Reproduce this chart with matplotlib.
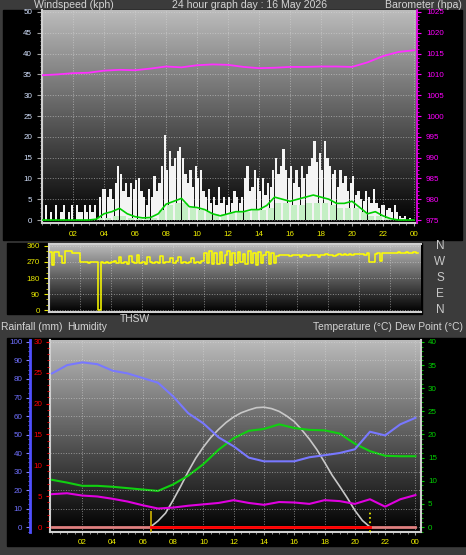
import numpy as np
import matplotlib
matplotlib.use("Agg")
import matplotlib.pyplot as plt
from matplotlib.patches import Rectangle
from matplotlib.colors import LinearSegmentedColormap
from matplotlib.ticker import MultipleLocator
from matplotlib.transforms import blended_transform_factory

# ---- data ----
hour_labels = ["02", "04", "06", "08", "10", "12", "14", "16", "18", "20", "22", "00"]

# wind gust, 10-minute samples (kph)
gust = [0, 3.5, 0, 2, 0, 3.5, 0, 2, 3.5, 0, 2, 3.5,
        0, 3.5, 2, 2, 3.5, 2, 3.5, 2, 3.5, 0, 5.5, 7.5,
        7.5, 5.5, 7.5, 5, 9, 13, 11, 7, 9, 5.5, 9, 7.5,
        9.5, 10, 7, 5.5, 3.5, 7.5, 5.5, 10.5, 7, 9, 13, 20.5,
        12, 16.5, 13, 15, 16.5, 17.5, 15, 11, 9, 12, 8, 13,
        10, 12, 7, 5.5, 7.5, 4, 5.5, 3.5, 8, 4, 5.5, 3.5,
        5.5, 4, 7, 5.5, 4, 5.5, 10, 13, 7, 8, 12, 10,
        7, 10, 6, 9, 8, 12, 15, 11, 13, 17, 12, 10,
        13, 9, 12, 8, 13, 10, 11, 13, 15, 19, 14, 16,
        12, 19, 15, 13, 11, 12, 8, 12, 9, 10.5, 7, 9,
        10.5, 6, 7, 5, 4.5, 7, 5.5, 4, 7.5, 4, 3, 3.5,
        3.5, 2.5, 3, 2, 3.5, 2, 1, 0.5, 1, 0, 0.5, 0]

# wind speed, 30-minute samples (kph)
wind_speed = [0, 0, 0, 0, 0, 0, 0, 0.5, 0.5, 1, 1, 0.5,
              0.3, 0.3, 0.5, 2.5, 3.5, 4, 4, 3, 2.5, 2, 1.5, 1.5,
              2, 2, 2, 2.5, 2.5, 3, 4, 4, 3.5, 3.5, 4, 4,
              4, 3.5, 3, 3, 3, 2, 1, 1, 0.5, 0, 0, 0]

# 10-minute average wind, every 30 minutes from 00:00 to 24:00 (kph)
wind_avg = [0, 0, 0, 0, 0, 0, 0, 0.2, 1.5, 2, 2.8, 1.5,
            0.8, 0.5, 0.6, 1.5, 3.8, 4.5, 5.2, 3.2, 3, 2.5, 1.5, 1,
            1.5, 2, 2, 2.5, 2.5, 3.5, 5.5, 5, 4.5, 5, 5.5, 6,
            5.5, 5, 4, 4, 4.5, 3, 1.5, 2, 1, 0.3, 0, 0, 0]

# barometer, hourly (hpa)
baro = [1009.8, 1010.0, 1010.3, 1010.4, 1010.9, 1011.1, 1011.0, 1011.4, 1011.9,
        1011.7, 1012.2, 1012.4, 1012.3, 1011.8, 1011.5, 1011.6, 1011.8, 1011.8,
        1011.9, 1011.9, 1011.8, 1012.9, 1014.4, 1015.4, 1015.8]

# wind direction, 10-minute samples (degrees)
wind_dir = [328, 254, 328, 328, 306, 263, 334, 334, 334, 323, 323, 323,
            269, 268, 270, 266, 270, 268, 270, 0, 268, 265, 272, 262,
            268, 275, 262, 300, 265, 270, 258, 305, 268, 262, 310, 265,
            272, 260, 300, 268, 262, 270, 265, 305, 262, 270, 268, 290,
            262, 275, 300, 265, 270, 262, 268, 295, 262, 270, 265, 275,
            320, 262, 330, 258, 318, 260, 325, 265, 310, 330, 255, 320,
            262, 328, 270, 315, 258, 330, 265, 320, 255, 325, 262, 310,
            325, 258, 318, 262, 306, 310, 312, 308, 310, 306, 312, 310,
            310, 300, 310, 312, 306, 310, 312, 308, 298, 312, 310, 314,
            310, 312, 306, 312, 314, 312, 314, 312, 316, 310, 314, 316,
            314, 316, 312, 318, 268, 272, 316, 318, 275, 320, 322, 320,
            322, 322, 320, 324, 322, 322, 324, 323, 322, 324, 323, 323]

# hourly humidity (%), temperature and dew point (C)
humidity = [83, 87.5, 89, 88, 84.5, 83, 80.5, 78, 70.6, 61.5, 56, 48.5, 43.6,
            37.5, 35.5, 35.5, 35.5, 37.7, 38.8, 40, 42, 51.5, 49.5, 55.5, 59]
temperature = [10.2, 9.6, 8.9, 8.9, 8.7, 8.4, 8.1, 7.8, 9.2, 11.1, 13.6, 16.7, 19.2,
               20.8, 21.2, 22.2, 21.4, 21.0, 20.9, 20.2, 18.0, 16.4, 15.4, 15.3, 15.3]
dew_point = [7.1, 7.3, 6.8, 6.6, 6.1, 5.5, 4.7, 4.0, 4.2, 4.6, 4.9, 5.2, 5.8,
             5.2, 4.8, 5.4, 5.3, 5.0, 5.8, 5.6, 5.0, 6.0, 4.4, 6.0, 6.9]

# THSW through daylight
thsw_hours = [6.5, 7, 7.5, 8, 8.5, 9, 9.5, 10, 10.5, 11, 11.5, 12, 12.5, 13, 13.5,
              14, 14.5, 15, 15.5, 16, 16.5, 17, 17.5, 18, 18.5, 19, 19.5, 20, 20.5, 21]
thsw = [0, 1.3, 3.0, 5.8, 8.8, 12.0, 14.9, 17.3, 19.4, 21.1, 22.6, 23.8, 24.7, 25.3, 25.8,
        25.9, 25.6, 25.0, 24.0, 22.8, 21.0, 19.0, 16.7, 14.0, 11.2, 8.8, 6.3, 3.6, 1.4, 0]

rain_hours = [0, 24]
rain_mm = [0.0, 0.0]
sunrise, sunset = 6.55, 21.0

# ---- layout helpers (pixel boxes on a 466x555 canvas) ----
W, H = 466, 555
BG = "#3b3b3b"


def box(x0, y0, x1, y1):
    return [x0 / W, 1 - y1 / H, (x1 - x0) / W, (y1 - y0) / H]


grad_cmap = LinearSegmentedColormap.from_list("panel", ["#000000", "#5c5c5c", "#bcbcbc"])


def backdrop(ax):
    grad = np.linspace(0, 1, 256).reshape(-1, 1)
    ax.imshow(grad, extent=[0, 1, 0, 1], transform=ax.transAxes, origin="lower",
              aspect="auto", cmap=grad_cmap, zorder=0)
    ax.set_facecolor("black")


plt.rcParams["font.family"] = ["Liberation Sans", "DejaVu Sans"]
fig = plt.figure(figsize=(W / 100, H / 100), dpi=100, facecolor=BG)

for x0, y0, x1, y1 in [(3, 10, 462, 240), (7, 243, 422, 314), (7, 338, 466, 546)]:
    fig.add_artist(Rectangle((x0 / W, 1 - y1 / H), (x1 - x0) / W, (y1 - y0) / H,
                             transform=fig.transFigure, color="black", zorder=-5))

title_c = "#d4d4d4"
fig.text(34 / W, 1 - 5 / H, "Windspeed (kph)", color=title_c, fontsize=7.6, va="center")
fig.text(250 / W, 1 - 5 / H, "24 hour graph day : 16 May 2026", color=title_c,
         fontsize=7.6, va="center", ha="center")
fig.text(462 / W, 1 - 5 / H, "Barometer (hpa)", color=title_c, fontsize=7.6,
         va="center", ha="right")

hours24 = np.arange(25)
grid_kw = dict(color="#d8d8d8", ls=":", lw=0.7, alpha=0.55)

# ---- panel 1: wind + barometer ----
ax1 = fig.add_axes(box(42, 10, 417, 223))
backdrop(ax1)
gust_t = np.arange(len(gust)) / 6 + 1 / 12
ax1.bar(gust_t, gust, width=0.145, color="#f4f4f4", zorder=2)
speed_t = np.arange(len(wind_speed)) / 2 + 0.25
ax1.bar(speed_t, wind_speed, width=0.38, color="#c4efc4", zorder=3)
ax1.plot(np.arange(len(wind_avg)) / 2, wind_avg, color="#00d000", lw=1.2, zorder=4)
ax1.set_xlim(0, 24.19)
ax1.set_ylim(-0.72, 50.48)
ax1.yaxis.set_major_locator(MultipleLocator(5))
ax1.yaxis.set_minor_locator(MultipleLocator(1))
ax1.set_xticks(np.arange(2, 25, 2))
ax1.set_xticklabels(hour_labels)
ax1.xaxis.set_minor_locator(MultipleLocator(0.5))
ax1.tick_params(axis="y", which="both", colors="#a0a0a0", labelcolor="#d4e2ff",
                labelsize=5.8, pad=3.5)
ax1.tick_params(axis="y", which="major", length=3.6)
ax1.tick_params(axis="y", which="minor", length=1.8)
ax1.tick_params(axis="x", which="both", colors="#a0a0a0", labelcolor="#f0f000",
                labelsize=5.8, length=2.2, pad=3.5)
ax1.tick_params(axis="x", which="minor", length=1.2)
ax1.grid(True, **grid_kw)
for side in ("left", "bottom"):
    ax1.spines[side].set_color("#d0d0d0")
    ax1.spines[side].set_linewidth(1.5)
for side in ("top", "right"):
    ax1.spines[side].set_visible(False)

axb = ax1.twinx()
axb.plot(hours24, baro, color="#ff30ff", lw=1.3, zorder=5)
axb.set_ylim(974.28, 1025.48)
axb.yaxis.set_major_locator(MultipleLocator(5))
axb.yaxis.set_minor_locator(MultipleLocator(1))
axb.tick_params(axis="y", which="both", colors="#ff00ff", labelsize=5.8, pad=3.5)
axb.tick_params(axis="y", which="major", length=3)
axb.tick_params(axis="y", which="minor", length=1.5)
for side in ("left", "top", "bottom"):
    axb.spines[side].set_visible(False)
axb.spines["right"].set_color("#e000e0")
axb.spines["right"].set_linewidth(1.3)

# ---- panel 2: wind direction ----
ax2 = fig.add_axes(box(49, 244, 421, 312))
backdrop(ax2)
dir_t = np.arange(len(wind_dir)) / 6
ax2.plot(dir_t, wind_dir, color="#ffff00", lw=1.1, drawstyle="steps-post", zorder=3)
ax2.set_xlim(0, 24)
ax2.set_ylim(-11, 371)
ax2.set_yticks([0, 90, 180, 270, 360])
ax2.yaxis.set_minor_locator(MultipleLocator(30))
ax2.set_xticks(np.arange(2, 25, 2))
ax2.tick_params(axis="x", length=0, labelbottom=False)
ax2.tick_params(axis="y", which="both", colors="#e8e800", labelsize=5.8, pad=3)
ax2.tick_params(axis="y", which="major", length=3.6)
ax2.tick_params(axis="y", which="minor", length=2)
ax2.grid(True, **grid_kw)
for side in ("left", "bottom", "top"):
    ax2.spines[side].set_color("#d0d0d0")
    ax2.spines[side].set_linewidth(1.5)
ax2.spines["right"].set_visible(False)

compass = ["N", "W", "S", "E", "N"]
compass_deg = [360, 270, 180, 90, 0]
tr = blended_transform_factory(ax2.transAxes, ax2.transData)
for lab, d in zip(compass, compass_deg):
    ax2.text((440 - 49) / 372, d, lab, transform=tr, color="#c8c8c8", fontsize=8.5,
             ha="center", va="center", clip_on=False)

fig.text(120 / W, 1 - 319 / H, "THSW", color=title_c, fontsize=7.4, va="center")
fig.text(1 / W, 1 - 327 / H, "Rainfall (mm)", color=title_c, fontsize=7.4, va="center")
fig.text(67 / W, 1 - 327 / H, "Humidity", color=title_c, fontsize=7.4, va="center")
fig.text(313 / W, 1 - 327 / H, "Temperature (\u00b0C)", color=title_c, fontsize=7.4, va="center")
fig.text(463 / W, 1 - 327 / H, "Dew Point (\u00b0C)", color=title_c, fontsize=7.4,
         va="center", ha="right")

# ---- panel 3: temperature, humidity, rain ----
ax3 = fig.add_axes(box(50, 340, 421, 532))
backdrop(ax3)
ax3.plot(thsw_hours, thsw, color="#c8c8c8", lw=1.2, zorder=3)
ax3.plot(hours24, temperature, color="#10d010", lw=1.5, zorder=4)
ax3.plot(hours24, dew_point, color="#e000e0", lw=1.5, zorder=4)
ax3.vlines(sunrise, -1.1, 3.5, color="#d0b400", lw=1.2, zorder=5)
ax3.vlines(sunset, -1.1, 3.5, color="#ffff00", lw=1.2, linestyles=":", zorder=5)
ax3.set_xlim(-0.13, 24.37)
ax3.set_ylim(-1.08, 40.43)

ax_h = ax3.twinx()
ax_h.plot(hours24, humidity, color="#7878ff", lw=1.5, zorder=4)
ax_h.set_ylim(-2.7, 101.08)
ax_h.yaxis.tick_left()
ax_h.spines["left"].set_position(("axes", (30 - 50) / 371))
ax_h.spines["left"].set_color("#5050ff")
ax_h.spines["left"].set_linewidth(2)
for side in ("right", "top", "bottom"):
    ax_h.spines[side].set_visible(False)
ax_h.yaxis.set_major_locator(MultipleLocator(10))
ax_h.yaxis.set_minor_locator(MultipleLocator(2.5))
ax_h.tick_params(axis="y", which="both", colors="#8080ff", labelcolor="#7070ff",
                 labelsize=5.8, pad=2.5)
ax_h.tick_params(axis="y", which="major", length=3)
ax_h.tick_params(axis="y", which="minor", length=1.8)
ax_h.grid(True, axis="y", **grid_kw)

ax_r = ax3.twinx()
ax_r.plot(rain_hours, rain_mm, color="#e08080", lw=2, zorder=6)
day_rain = np.interp([sunrise, sunset], rain_hours, rain_mm)
ax_r.plot([sunrise, sunset], day_rain, color="#ff0000", lw=2, zorder=7)
ax_r.set_ylim(-0.81, 30.32)
ax_r.yaxis.tick_left()
ax_r.spines["left"].set_position(("axes", (49 - 50) / 371))
for side in ("left", "right", "top", "bottom"):
    ax_r.spines[side].set_visible(False)
ax_r.yaxis.set_major_locator(MultipleLocator(5))
ax_r.yaxis.set_minor_locator(MultipleLocator(1))
ax_r.tick_params(axis="y", which="both", colors="#ff0000", labelsize=5.8, pad=2.2)
ax_r.tick_params(axis="y", which="major", length=2.5)
ax_r.tick_params(axis="y", which="minor", length=1.5)

ax3.yaxis.tick_right()
ax3.yaxis.set_major_locator(MultipleLocator(5))
ax3.yaxis.set_minor_locator(MultipleLocator(1))
ax3.tick_params(axis="y", which="both", colors="#00d000", labelsize=5.8, pad=2.5)
ax3.tick_params(axis="y", which="major", length=2.5)
ax3.tick_params(axis="y", which="minor", length=1.5)
ax3.set_xticks(np.arange(2, 25, 2))
ax3.set_xticklabels(hour_labels)
ax3.xaxis.set_minor_locator(MultipleLocator(0.5))
ax3.tick_params(axis="x", which="both", colors="#a0a0a0", labelcolor="#f0f000",
                labelsize=5.8, length=2.2, pad=3)
ax3.tick_params(axis="x", which="minor", length=1.2)
ax3.grid(True, axis="x", **grid_kw)
for side in ("left", "bottom", "right"):
    ax3.spines[side].set_color("#d0d0d0")
    ax3.spines[side].set_linewidth(1.5)
ax3.spines["top"].set_visible(False)

fig.savefig("out.png", dpi=100, facecolor=BG)
